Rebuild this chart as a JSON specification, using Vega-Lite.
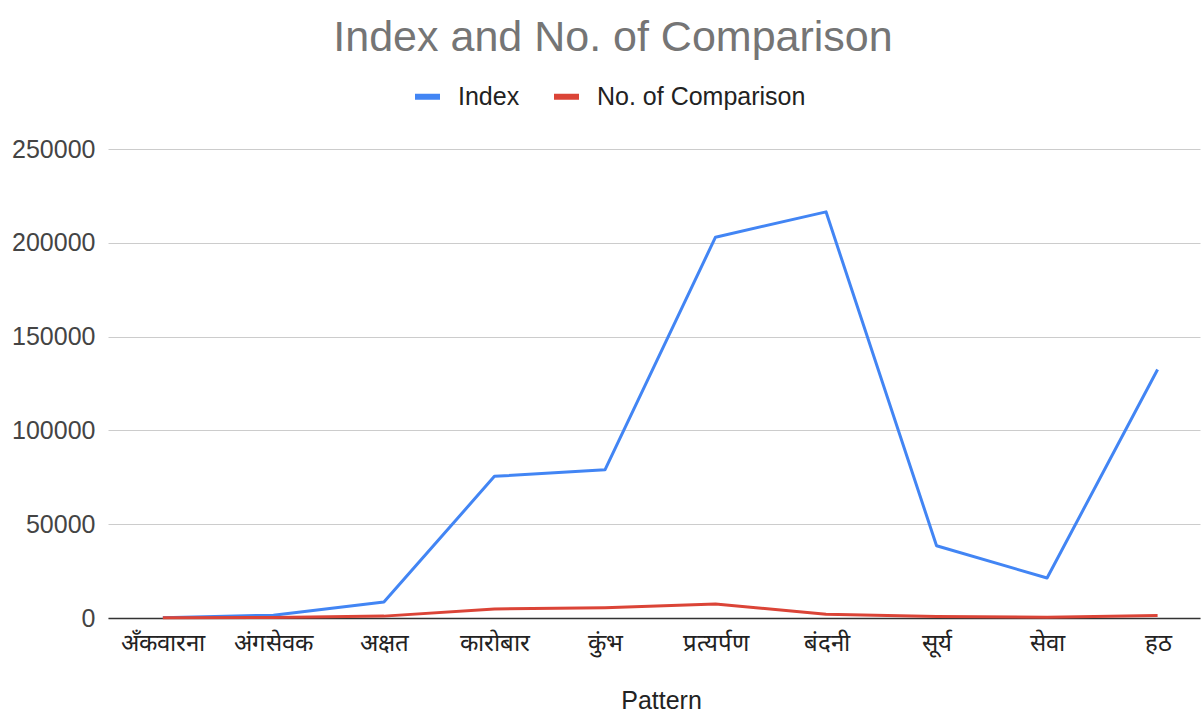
{
  "$schema": "https://vega.github.io/schema/vega-lite/v6.json",
  "width": 1092,
  "height": 469,
  "autosize": "none",
  "padding": {"left": 108, "top": 149, "right": 2, "bottom": 97},
  "background": "white",
  "title": {
    "text": "Index and No. of Comparison",
    "fontSize": 43,
    "font": "Liberation Sans",
    "fontWeight": "normal",
    "color": "#757575",
    "anchor": "middle",
    "dx": -41,
    "offset": 21
  },
  "data": {
    "values": [
      {"pattern": "अँकवारना", "series": "Index", "value": 200},
      {"pattern": "अंगसेवक", "series": "Index", "value": 1500},
      {"pattern": "अक्षत", "series": "Index", "value": 8500},
      {"pattern": "कारोबार", "series": "Index", "value": 75500},
      {"pattern": "कुंभ", "series": "Index", "value": 79000},
      {"pattern": "प्रत्यर्पण", "series": "Index", "value": 203000},
      {"pattern": "बंदनी", "series": "Index", "value": 216500},
      {"pattern": "सूर्य", "series": "Index", "value": 38500},
      {"pattern": "सेवा", "series": "Index", "value": 21300},
      {"pattern": "हठ", "series": "Index", "value": 132500},
      {"pattern": "अँकवारना", "series": "No. of Comparison", "value": 100},
      {"pattern": "अंगसेवक", "series": "No. of Comparison", "value": 300},
      {"pattern": "अक्षत", "series": "No. of Comparison", "value": 1000},
      {"pattern": "कारोबार", "series": "No. of Comparison", "value": 4800},
      {"pattern": "कुंभ", "series": "No. of Comparison", "value": 5500},
      {"pattern": "प्रत्यर्पण", "series": "No. of Comparison", "value": 7500},
      {"pattern": "बंदनी", "series": "No. of Comparison", "value": 2000},
      {"pattern": "सूर्य", "series": "No. of Comparison", "value": 800},
      {"pattern": "सेवा", "series": "No. of Comparison", "value": 400},
      {"pattern": "हठ", "series": "No. of Comparison", "value": 1300}
    ]
  },
  "mark": {"type": "line", "strokeWidth": 3, "strokeJoin": "round"},
  "encoding": {
    "x": {
      "field": "pattern",
      "type": "nominal",
      "sort": null,
      "scale": {"type": "point", "padding": 0.44, "align": 0.564},
      "axis": {
        "title": "Pattern",
        "titleFont": "Liberation Sans",
        "titleFontSize": 25,
        "titleFontWeight": "normal",
        "titleColor": "#222222",
        "titlePadding": 33,
        "titleX": 553,
        "labelAngle": 0,
        "labelFont": "Liberation Sans",
        "labelFontSize": 24,
        "labelColor": "#222222",
        "labelPadding": 13,
        "ticks": false,
        "domainColor": "#333333",
        "domainWidth": 1.6,
        "grid": false
      }
    },
    "y": {
      "field": "value",
      "type": "quantitative",
      "scale": {"domain": [0, 250000], "nice": false},
      "axis": {
        "title": null,
        "values": [0, 50000, 100000, 150000, 200000, 250000],
        "format": "d",
        "labelFont": "Liberation Sans",
        "labelFontSize": 25,
        "labelColor": "#444444",
        "labelPadding": 13,
        "ticks": false,
        "domain": false,
        "gridColor": "#cccccc",
        "gridWidth": 1
      }
    },
    "color": {
      "field": "series",
      "type": "nominal",
      "scale": {"domain": ["Index", "No. of Comparison"], "range": ["#4285F4", "#DB4437"]},
      "legend": {
        "title": null,
        "orient": "none",
        "direction": "horizontal",
        "legendX": 304,
        "legendY": -68,
        "symbolType": "stroke",
        "symbolSize": 625,
        "symbolStrokeWidth": 6,
        "labelFont": "Liberation Sans",
        "labelFontSize": 25,
        "labelColor": "#222222",
        "labelOffset": 15,
        "labelLimit": 400,
        "columnPadding": 22
      }
    }
  },
  "config": {
    "view": {"stroke": null}
  }
}
